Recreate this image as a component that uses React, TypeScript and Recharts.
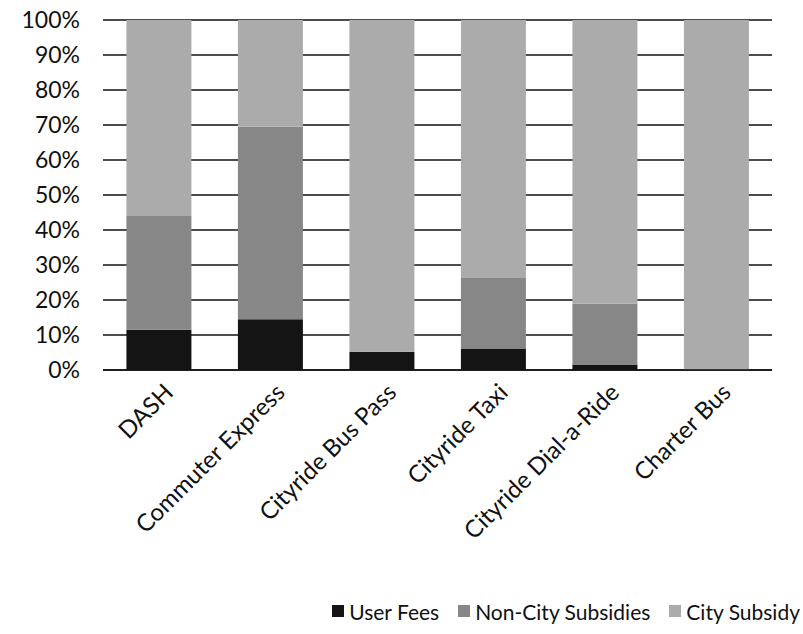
import { Bar, BarChart, CartesianGrid, Legend, XAxis, YAxis } from "recharts";

const categories = [
  "DASH",
  "Commuter Express",
  "Cityride Bus Pass",
  "Cityride Taxi",
  "Cityride Dial-a-Ride",
  "Charter Bus",
];
const userFees = [11.5, 14.5, 5.2, 6.0, 1.6, 0];
const nonCitySubsidies = [32.5, 55.0, 0, 20.3, 17.4, 0];
const citySubsidy = [56.0, 30.5, 94.8, 73.7, 81.0, 100];
const yTicks = [0, 10, 20, 30, 40, 50, 60, 70, 80, 90, 100];

const seriesNames = ["User Fees", "Non-City Subsidies", "City Subsidy"];
const seriesColors = ["#141414", "#878787", "#ababab"];

const data = categories.map((name, i) => ({
  name,
  userFees: userFees[i],
  nonCity: nonCitySubsidies[i],
  city: citySubsidy[i],
}));

const FONT = "Lato, 'Open Sans', sans-serif";

function XTick({ x, y, payload }: { x?: number; y?: number; payload?: { value: string } }) {
  return (
    <g transform={`translate(${(x ?? 0) + 16},${(y ?? 0) + 24})`}>
      <text textAnchor="end" transform="rotate(-45)" fontSize={24} fontFamily={FONT} fill="#111">
        {payload?.value}
      </text>
    </g>
  );
}

function ChartLegend() {
  return (
    <div
      style={{
        display: "flex",
        justifyContent: "flex-end",
        alignItems: "center",
        height: 30,
        fontFamily: FONT,
        fontSize: 21,
        color: "#111",
      }}
    >
      {seriesNames.map((label, i) => (
        <span key={label} style={{ display: "flex", alignItems: "center", marginLeft: i === 0 ? 0 : 19 }}>
          <span
            style={{
              display: "inline-block",
              width: 12,
              height: 12,
              background: seriesColors[i],
              marginRight: 5,
            }}
          />
          {label}
        </span>
      ))}
    </div>
  );
}

export default function App() {
  return (
    <div style={{ position: "absolute", left: 0, top: 0, background: "#fff" }}>
      <BarChart
        width={803}
        height={634}
        data={data}
        margin={{ top: 20, right: 31, left: 0, bottom: 6 }}
        barCategoryGap="21%"
      >
        <CartesianGrid vertical={false} stroke="#111" strokeWidth={1.3} />
        <XAxis
          dataKey="name"
          interval={0}
          height={228}
          tick={<XTick />}
          tickLine={false}
          tickSize={0}
          tickMargin={0}
          axisLine={{ stroke: "#111", strokeWidth: 1.5 }}
        />
        <YAxis
          width={103}
          domain={[0, 100]}
          ticks={yTicks}
          tickFormatter={(v: number) => `${v}%`}
          axisLine={false}
          tickLine={false}
          tickMargin={17}
          tick={{ fill: "#111", fontSize: 23, fontFamily: FONT }}
        />
        <Legend
          verticalAlign="bottom"
          align="right"
          content={<ChartLegend />}
          wrapperStyle={{ right: 3, bottom: 8 }}
        />
        <Bar dataKey="userFees" name={seriesNames[0]} stackId="a" fill={seriesColors[0]} isAnimationActive={false} />
        <Bar dataKey="nonCity" name={seriesNames[1]} stackId="a" fill={seriesColors[1]} isAnimationActive={false} />
        <Bar dataKey="city" name={seriesNames[2]} stackId="a" fill={seriesColors[2]} isAnimationActive={false} />
      </BarChart>
    </div>
  );
}
